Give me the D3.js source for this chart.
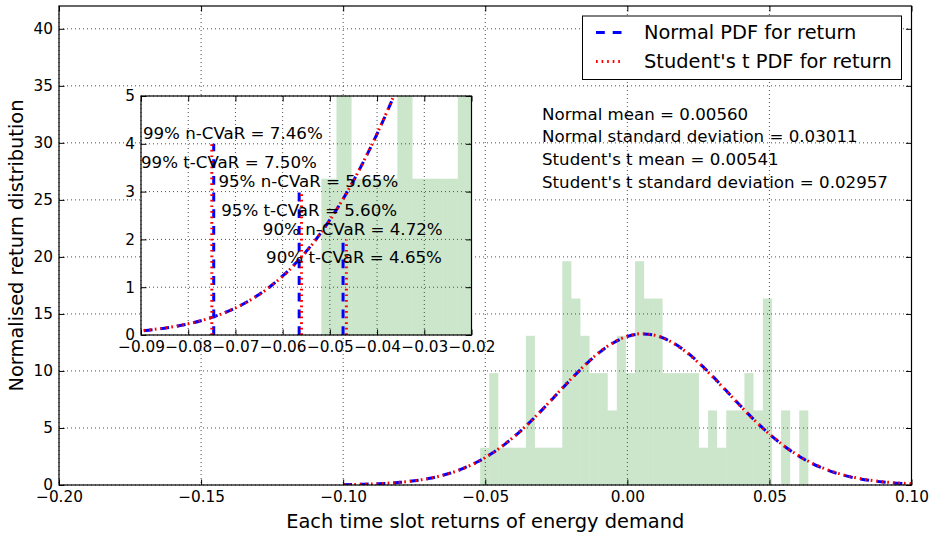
<!DOCTYPE html>
<html>
<head>
<meta charset="utf-8">
<script src="https://cdn.jsdelivr.net/npm/d3@7"></script>
<style>
  body { margin: 0; background: #fff; }
  svg text { font-family: "DejaVu Sans", sans-serif; fill: #000; }
</style>
</head>
<body>
<svg id="chart" width="937" height="535"></svg>
<script>
// histogram of returns (bin edges and normalised heights)
const binEdges = [-0.0518, -0.0486, -0.0454, -0.0422, -0.0390, -0.0357, -0.0325, -0.0293, -0.0261,
  -0.0229, -0.0197, -0.0165, -0.0133, -0.0101, -0.0069, -0.0037, -0.0005, 0.0027, 0.0059,
  0.0092, 0.0124, 0.0156, 0.0188, 0.0220, 0.0252, 0.0284, 0.0316, 0.0348, 0.0380,
  0.0412, 0.0444, 0.0477, 0.0509, 0.0541, 0.0573, 0.0605, 0.0637];
const binDensity = [3.27, 9.81, 3.27, 3.27, 3.27, 13.08, 3.27, 3.27, 3.27, 19.62, 16.35, 13.08,
  9.81, 9.81, 6.54, 13.08, 9.81, 19.62, 16.35, 16.35, 9.81, 9.81, 9.81, 9.81, 3.27, 6.54,
  3.27, 6.54, 6.54, 9.81, 6.54, 16.35, 0, 6.54, 0, 6.54];

// pdf curves
const pdfX = [-0.1000, -0.0975, -0.0950, -0.0925, -0.0900, -0.0875, -0.0850, -0.0825, -0.0800,
  -0.0775, -0.0750, -0.0725, -0.0700, -0.0675, -0.0650, -0.0625, -0.0600, -0.0575, -0.0550,
  -0.0525, -0.0500, -0.0475, -0.0450, -0.0425, -0.0400, -0.0375, -0.0350, -0.0325, -0.0300,
  -0.025, -0.020, -0.015, -0.010, -0.005, 0.000, 0.005, 0.010, 0.015, 0.020, 0.025, 0.030,
  0.035, 0.040, 0.045, 0.050, 0.055, 0.060, 0.065, 0.070, 0.075, 0.080, 0.085, 0.090, 0.095, 0.100];
const normalPdf = [0.0283, 0.0377, 0.0500, 0.0656, 0.0857, 0.1112, 0.1432, 0.1832, 0.2329,
  0.2937, 0.3683, 0.4583, 0.5667, 0.6956, 0.8478, 1.026, 1.235, 1.474, 1.749,
  2.058, 2.409, 2.798, 3.228, 3.699, 4.208, 4.755, 5.338, 5.950, 6.586,
  7.906, 9.231, 10.484, 11.585, 12.453, 13.022, 13.246, 13.108, 12.619, 11.817, 10.765, 9.541,
  8.226, 6.898, 5.628, 4.468, 3.449, 2.590, 1.892, 1.345, 0.930, 0.626, 0.410, 0.261, 0.161, 0.097];
const studentPdf = [0.0301, 0.0398, 0.0524, 0.0683, 0.0886, 0.1142, 0.1461, 0.1858, 0.2350,
  0.2951, 0.3688, 0.4578, 0.5650, 0.6928, 0.8438, 1.021, 1.229, 1.468, 1.743,
  2.053, 2.405, 2.796, 3.228, 3.702, 4.214, 4.764, 5.350, 5.965, 6.604,
  7.929, 9.257, 10.512, 11.614, 12.481, 13.046, 13.262, 13.110, 12.606, 11.790, 10.729, 9.503,
  8.193, 6.874, 5.616, 4.468, 3.460, 2.609, 1.916, 1.371, 0.956, 0.650, 0.432, 0.281, 0.179, 0.112];

// CVaR markers in the inset
const cvarText = ["99% n-CVaR = 7.46%", "99% t-CVaR = 7.50%", "95% n-CVaR = 5.65%",
  "95% t-CVaR = 5.60%", "90% n-CVaR = 4.72%", "90% t-CVaR = 4.65%"];
const cvarX = [-0.0746, -0.0750, -0.0565, -0.0560, -0.0472, -0.0465];
const cvarTop = [4, 4, 3, 3, 2, 2];
const cvarKind = ["n", "t", "n", "t", "n", "t"];
const cvarLabelX = [-0.0896, -0.0900, -0.0736, -0.0730, -0.0642, -0.0635];
const cvarLabelY = [4.1, 3.5, 3.1, 2.5, 2.1, 1.5];

const statLines = ["Normal mean = 0.00560", "Normal standard deviation = 0.03011",
  "Student's t mean = 0.00541", "Student's t standard deviation = 0.02957"];
const legendLabels = ["Normal PDF for return", "Student's t PDF for return"];

const xTicks = [-0.20, -0.15, -0.10, -0.05, 0.00, 0.05, 0.10];
const yTicks = [0, 5, 10, 15, 20, 25, 30, 35, 40];
const insetXTicks = [-0.09, -0.08, -0.07, -0.06, -0.05, -0.04, -0.03, -0.02];
const insetYTicks = [0, 1, 2, 3, 4, 5];

const svg = d3.select("#chart");
const tickFont = "15.3px", textFont = "16.67px", bigFont = "19.4px";

const blueStyle = { stroke: "#0000ff", width: 3, dash: "8.8,7.9" };
const redStyle = { stroke: "#ff0000", width: 3, dash: "1.7,3.86" };

const main = { left: 59, right: 911.5, top: 6, bottom: 485 };
const ins = { left: 141, right: 471.5, top: 96, bottom: 335 };

const x = d3.scaleLinear().domain([-0.2, 0.1]).range([main.left, main.right]);
const y = d3.scaleLinear().domain([0, 42]).range([main.bottom, main.top]);
const xi = d3.scaleLinear().domain([-0.09, -0.02]).range([ins.left, ins.right]);
const yi = d3.scaleLinear().domain([0, 5]).range([ins.bottom, ins.top]);

const bins = binDensity.map((d, i) => ({ x0: binEdges[i], x1: binEdges[i + 1], v: d }));
const normalPts = pdfX.map((d, i) => [d, normalPdf[i]]);
const studentPts = pdfX.map((d, i) => [d, studentPdf[i]]);

function panel(id, box, sx, sy, xt, yt, xfmt, yfmt) {
  const g = svg.append("g").attr("class", id);
  const w = box.right - box.left, h = box.bottom - box.top;
  g.append("rect").attr("x", box.left).attr("y", box.top).attr("width", w).attr("height", h).attr("fill", "#fff");
  svg.append("clipPath").attr("id", "clip-" + id)
    .append("rect").attr("x", box.left).attr("y", box.top).attr("width", w).attr("height", h);

  // grid
  const grid = g.append("g").attr("stroke", "#000").attr("stroke-width", 0.7).attr("stroke-dasharray", "1,3");
  grid.selectAll(".gx").data(xt).enter().append("line")
    .attr("x1", d => sx(d)).attr("x2", d => sx(d)).attr("y1", box.top).attr("y2", box.bottom);
  grid.selectAll(".gy").data(yt).enter().append("line")
    .attr("y1", d => sy(d)).attr("y2", d => sy(d)).attr("x1", box.left).attr("x2", box.right);

  const content = g.append("g").attr("clip-path", `url(#clip-${id})`);

  const draw = () => {
    const axes = g.append("g");
    const styleAxis = sel => {
      sel.select(".domain").remove();
      sel.selectAll(".tick line").attr("stroke", "#000").attr("stroke-width", 1);
      sel.selectAll(".tick text").style("font-size", tickFont).attr("fill", "#000")
        .style("font-family", "DejaVu Sans, sans-serif");
    };
    axes.append("g").attr("transform", `translate(0,${box.bottom})`)
      .call(d3.axisBottom(sx).tickValues(xt).tickSize(-5.5).tickPadding(6).tickFormat(xfmt)).call(styleAxis);
    axes.append("g").attr("transform", `translate(0,${box.top})`)
      .call(d3.axisTop(sx).tickValues(xt).tickSize(-5.5).tickFormat("")).call(styleAxis);
    axes.append("g").attr("transform", `translate(${box.left},0)`)
      .call(d3.axisLeft(sy).tickValues(yt).tickSize(-5.5).tickPadding(6).tickFormat(yfmt)).call(styleAxis);
    axes.append("g").attr("transform", `translate(${box.right},0)`)
      .call(d3.axisRight(sy).tickValues(yt).tickSize(-5.5).tickFormat("")).call(styleAxis);
    g.append("rect").attr("x", box.left).attr("y", box.top).attr("width", w).attr("height", h)
      .attr("fill", "none").attr("stroke", "#000").attr("stroke-width", 1.2);
  };
  return { g, content, draw };
}

function drawBars(layer, sx, sy) {
  layer.selectAll(".bar").data(bins.filter(b => b.v > 0)).enter().append("rect")
    .attr("x", d => sx(d.x0)).attr("width", d => sx(d.x1) - sx(d.x0))
    .attr("y", d => sy(d.v)).attr("height", d => sy(0) - sy(d.v))
    .attr("fill", "#008000").attr("fill-opacity", 0.2);
}

function drawCurve(layer, pts, sx, sy, st) {
  const line = d3.line().x(d => sx(d[0])).y(d => sy(d[1])).curve(d3.curveMonotoneX);
  layer.append("path").datum(pts).attr("d", line).attr("fill", "none")
    .attr("stroke", st.stroke).attr("stroke-width", st.width).attr("stroke-dasharray", st.dash);
}

// main panel
const fmt2 = d3.format(".2f");
const mainP = panel("main", main, x, y, xTicks, yTicks, fmt2, d3.format("d"));
drawBars(mainP.content, x, y);
drawCurve(mainP.content, normalPts, x, y, blueStyle);
drawCurve(mainP.content, studentPts, x, y, redStyle);
mainP.draw();

// legend
const leg = svg.append("g");
leg.append("rect").attr("x", 582.5).attr("y", 16).attr("width", 319).attr("height", 63.5)
  .attr("fill", "#fff").attr("stroke", "#000").attr("stroke-width", 1);
[blueStyle, redStyle].forEach((st, i) => {
  const ly = 32.5 + i * 29;
  leg.append("line").attr("x1", 596).attr("x2", 622).attr("y1", ly).attr("y2", ly)
    .attr("stroke", st.stroke).attr("stroke-width", st.width).attr("stroke-dasharray", st.dash);
  leg.append("text").attr("x", 644).attr("y", ly).attr("dy", "0.36em")
    .style("font-size", bigFont).text(legendLabels[i]);
});

// statistics text
svg.append("g").selectAll("text").data(statLines).enter().append("text")
  .attr("x", 542).attr("y", (d, i) => 119.5 + i * 22.8)
  .style("font-size", textFont).text(d => d);

// axis labels
svg.append("text").attr("x", (main.left + main.right) / 2).attr("y", 527.5)
  .attr("text-anchor", "middle").style("font-size", bigFont)
  .text("Each time slot returns of energy demand");
svg.append("text").attr("transform", `translate(23,${(main.top + main.bottom) / 2}) rotate(-90)`)
  .attr("text-anchor", "middle").style("font-size", bigFont)
  .text("Normalised return distribution");

// inset panel
const insP = panel("inset", ins, xi, yi, insetXTicks, insetYTicks, fmt2, d3.format("d"));
drawBars(insP.content, xi, yi);
drawCurve(insP.content, normalPts, xi, yi, blueStyle);
drawCurve(insP.content, studentPts, xi, yi, redStyle);
cvarX.forEach((cx, i) => {
  const st = cvarKind[i] === "n" ? blueStyle : redStyle;
  insP.content.append("line").attr("x1", xi(cx)).attr("x2", xi(cx))
    .attr("y1", yi(0)).attr("y2", yi(cvarTop[i]))
    .attr("stroke", st.stroke).attr("stroke-width", st.width).attr("stroke-dasharray", st.dash);
});
insP.draw();
svg.append("g").selectAll("text").data(cvarText).enter().append("text")
  .attr("x", (d, i) => xi(cvarLabelX[i])).attr("y", (d, i) => yi(cvarLabelY[i]))
  .style("font-size", textFont).text(d => d);
</script>
</body>
</html>
